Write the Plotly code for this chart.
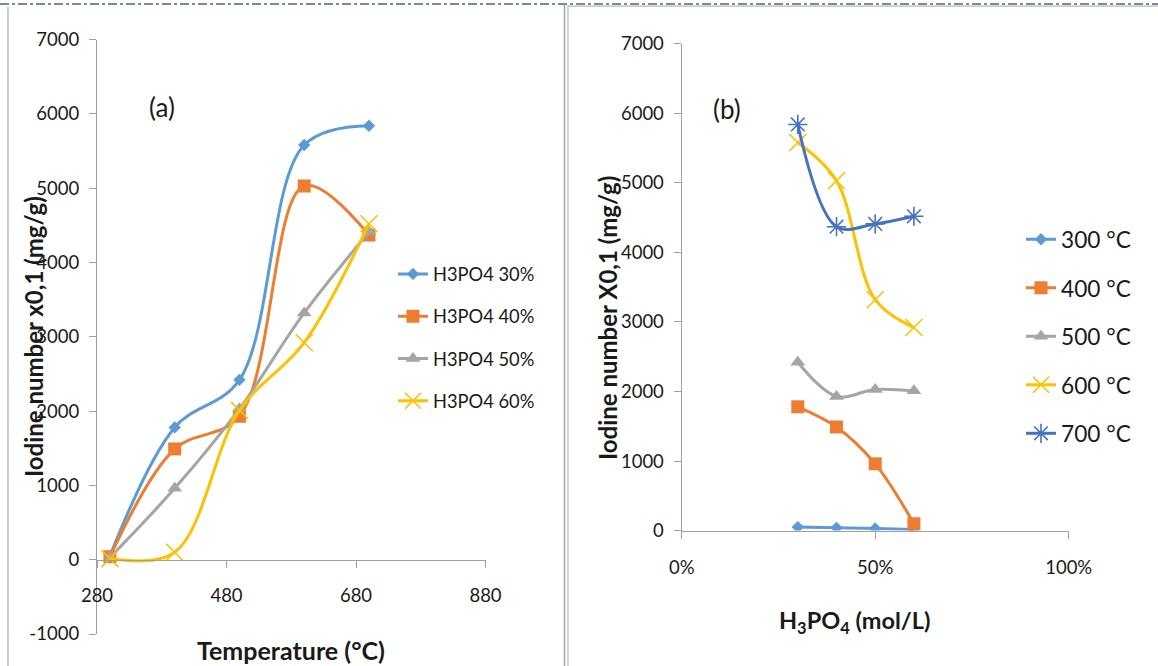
import plotly.graph_objects as go

W, H = 1158, 666

# ---------------- data ----------------
temps = [300, 400, 500, 600, 700]
conc = [0.30, 0.40, 0.50, 0.60]
conc_names = ["H3PO4 30%", "H3PO4 40%", "H3PO4 50%", "H3PO4 60%"]
temp_names = ["300 °C", "400 °C", "500 °C", "600 °C", "700 °C"]

iod_30 = [50, 1780, 2420, 5580, 5840]
iod_40 = [40, 1490, 1930, 5030, 4370]
iod_50 = [30, 960, 2030, 3320, 4410]
iod_60 = [15, 100, 2010, 2920, 4520]

x_ticks_a = [280, 480, 680, 880]
y_ticks_a = [-1000, 0, 1000, 2000, 3000, 4000, 5000, 6000, 7000]
y_labels_a = ["-1000", "0", "1000", "2000", "3000", "4000", "5000", "6000", "7000"]
y_ticks_b = [0, 1000, 2000, 3000, 4000, 5000, 6000, 7000]
x_ticks_b = [0, 0.5, 1.0]
x_labels_b = ["0%", "50%", "100%"]

# ---------------- styles ----------------
colors = ["#5B9BD5", "#ED7D31", "#A5A5A5", "#FFC000", "#4472C4"]
symbols = ["diamond", "square", "triangle-up", "x-thin", "asterisk"]
msizes = [9.5, 13, 13, 17, 16]
FONT = "Lato"
AXC = "#A0A0A0"


def px(v):
    return v / W


def py(v):
    return 1 - v / H


def marker(i):
    thin = symbols[i] in ("x-thin", "asterisk")
    return dict(symbol=symbols[i], size=msizes[i], color=colors[i],
                line=dict(color=colors[i], width=1.6 if thin else 0))


fig = go.Figure()

series_a = [iod_30, iod_40, iod_50, iod_60]
for i, ys in enumerate(series_a):
    fig.add_trace(go.Scatter(
        x=temps, y=ys, name=conc_names[i], mode="lines+markers",
        line=dict(color=colors[i], width=3, shape="spline", smoothing=1),
        marker=marker(i), xaxis="x", yaxis="y",
        legend="legend", legendgroup="a%d" % i))

for j, t in enumerate(temps):
    ys = [s[j] for s in series_a]
    fig.add_trace(go.Scatter(
        x=conc, y=ys, name=temp_names[j], mode="lines+markers",
        line=dict(color=colors[j], width=3, shape="spline", smoothing=1),
        marker=marker(j), xaxis="x2", yaxis="y2",
        legend="legend2", legendgroup="b%d" % j))

# domains (pixel-measured)
ya_dom = [py(634), py(39.5)]
xa_dom = [px(97), px(485.5)]
yb_dom = [py(530.6), py(43.8)]
xb_dom = [px(681.7), px(1068.7)]
x_pos_a = py(560)

tickfont = dict(family=FONT, size=18.5, color="#1a1a1a")
common = dict(showgrid=False, zeroline=False, showline=True, linecolor=AXC,
              linewidth=1.3, ticks="outside", ticklen=7, tickcolor=AXC,
              tickwidth=1.3, tickfont=tickfont, automargin=False)

fig.update_layout(
    width=W, height=H, margin=dict(l=0, r=0, t=0, b=0, autoexpand=False),
    paper_bgcolor="white", plot_bgcolor="white",
    font=dict(family=FONT, color="#1a1a1a"),
    xaxis=dict(domain=xa_dom, range=[280, 880], tickvals=x_ticks_a,
               anchor="free", position=x_pos_a, ticklabelstandoff=12, **common),
    yaxis=dict(domain=ya_dom, range=[-1000, 7000], tickvals=y_ticks_a,
               ticktext=y_labels_a, anchor="x", ticklabelstandoff=6, **common),
    xaxis2=dict(domain=xb_dom, range=[0, 1], tickvals=x_ticks_b,
                ticktext=x_labels_b, anchor="y2", ticklabelstandoff=13, **common),
    yaxis2=dict(domain=yb_dom, range=[0, 7000], tickvals=y_ticks_b,
                anchor="x2", ticklabelstandoff=6, **common),
    legend=dict(x=px(393), y=py(255.5), xanchor="left", yanchor="top",
                bgcolor="rgba(0,0,0,0)", font=dict(family=FONT, size=18.3, color="#1a1a1a"),
                tracegroupgap=15.5, itemsizing="trace"),
    legend2=dict(x=px(1021), y=py(218), xanchor="left", yanchor="top",
                 bgcolor="rgba(0,0,0,0)", font=dict(family=FONT, size=22.7, color="#1a1a1a"),
                 tracegroupgap=16, itemsizing="trace"),
    showlegend=True,
)

ann = [
    dict(text="(a)", x=px(162), y=py(107), font=dict(size=26)),
    dict(text="(b)", x=px(726.5), y=py(109), font=dict(size=26)),
    dict(text="<b>Iodine number x0,1 (mg/g)</b>", x=px(33), y=py(337),
         textangle=-90, font=dict(size=24)),
    dict(text="<b>Iodine number X0,1 (mg/g)</b>", x=px(607), y=py(318),
         textangle=-90, font=dict(size=24)),
    dict(text="<b>Temperature (°C)</b>", x=px(291), y=py(650), font=dict(size=25)),
    dict(text="<b>H<sub>3</sub>PO<sub>4</sub> (mol/L)</b>", x=px(854), y=py(622),
         font=dict(size=23.5)),
]
for a in ann:
    a.update(xref="paper", yref="paper", showarrow=False,
             xanchor="center", yanchor="middle")
    a["font"].update(family=FONT, color="#1a1a1a")
fig.update_layout(annotations=ann)

# frame lines
shapes = [
    dict(type="line", x0=0, x1=1, y0=py(4), y1=py(4),
         line=dict(color="#4F6088", width=1.5, dash="dashdot")),
    dict(type="line", x0=px(8), x1=px(8), y0=py(7), y1=0,
         line=dict(color="#B0B0B0", width=1.3)),
    dict(type="line", x0=px(564.5), x1=px(564.5), y0=py(5), y1=0,
         line=dict(color="#A8A8A8", width=1.5)),
    dict(type="line", x0=px(568), x1=px(568), y0=py(5), y1=0,
         line=dict(color="#B8B8B8", width=1.2)),
    dict(type="line", x0=px(568), x1=1, y0=py(6.2), y1=py(6.2),
         line=dict(color="#B8B8B8", width=1.2)),
]
for s in shapes:
    s.update(xref="paper", yref="paper", layer="above")
fig.update_layout(shapes=shapes)

fig.write_html("out.html")
